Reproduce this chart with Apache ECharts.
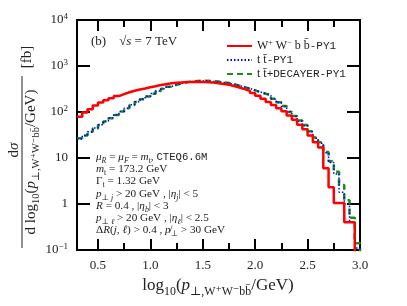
<!DOCTYPE html>
<html>
<head>
<meta charset="utf-8">
<script src="https://cdn.jsdelivr.net/npm/echarts@6/dist/echarts.min.js"></script>
<style>
  html, body { margin: 0; padding: 0; background: #fff; }
  #chart { width: 407px; height: 306px; }
</style>
</head>
<body>
<div id="chart"></div>
<script>
// histogram bins: 0.30 .. 3.00, width 0.05 (54 bins)
const binStart = 0.3;
const binWidth = 0.05;
const xMajorTicks = [0.5, 1.0, 1.5, 2.0, 2.5, 3.0];
const xMinorTicks = [0.75, 1.25, 1.75, 2.25, 2.75];

// dsigma / dlog10(pT) [fb], one value per bin
const wwbbPY1 = [
  79, 97, 115, 138, 160, 180, 200, 222, 245, 268,
  290, 308, 325, 345, 362, 385, 402, 420, 432, 440,
  447, 451, 452, 450, 445, 436, 424, 408, 390, 368,
  342, 315, 288, 258, 225, 195, 165, 142, 120, 104,
  84, 68, 53, 42, 31, 22, 17, 6, 2.3, 1.05,
  1.05, 0.4, 0.4, 0
];
const ttPY1 = [
  26, 31, 37, 45, 53, 63, 74, 87, 103, 121,
  143, 167, 192, 220, 252, 286, 322, 356, 390, 418,
  442, 458, 468, 472, 470, 463, 452, 438, 420, 400,
  376, 350, 325, 298, 272, 252, 228, 192, 160, 132,
  102, 80, 63, 50, 37, 27, 21, 13, 8, 4.5,
  1.8, 1.0, 0.4, 0.11
];
const ttDecayerPY1 = [
  27, 31, 37, 44, 52, 62, 73, 86, 102, 120,
  142, 165, 190, 218, 250, 285, 320, 355, 390, 420,
  445, 462, 472, 478, 476, 470, 458, 444, 425, 402,
  375, 348, 322, 295, 268, 250, 234, 195, 162, 135,
  100, 82, 65, 52, 38, 28, 22, 13.5, 8.5, 5,
  2.6, 1.2, 0.5, 0.14
];

const serif = "'Liberation Serif', 'DejaVu Serif', serif";
const mono = "'Liberation Mono', 'DejaVu Sans Mono', monospace";
const ink = "#222";
const EMPTY = 0.01; // empty bin -> below the log axis, clipped

// left edges + closing edge, drawn with step 'end'
function toSteps(vals) {
  let pts = vals.map((v, i) => [+(binStart + i * binWidth).toFixed(2), v > 0 ? v : EMPTY]);
  pts.push([+(binStart + vals.length * binWidth).toFixed(2), EMPTY]);
  return pts;
}

// rich styles for graphic texts
function richFor(size) {
  return {
    n: { fontFamily: serif, fontSize: size, fill: ink },
    i: { fontFamily: serif, fontSize: size, fontStyle: "italic", fill: ink },
    s: { fontFamily: serif, fontSize: size * 0.7, fill: ink, padding: [size * 0.7, 0, 0, 0] },
    si: { fontFamily: serif, fontSize: size * 0.7, fontStyle: "italic", fill: ink, padding: [size * 0.7, 0, 0, 0] },
    sup: { fontFamily: serif, fontSize: size * 0.7, fill: ink, padding: [0, 0, size * 0.6, 0] },
    tt: { fontFamily: mono, fontSize: size * 0.95, fill: ink }
  };
}
function label(x, y, text, size, extra) {
  let el = {
    type: "text",
    x: x,
    y: y,
    silent: true,
    style: {
      text: text,
      fontFamily: serif,
      fontSize: size,
      fill: ink,
      align: "left",
      textAlign: "left",
      verticalAlign: "middle",
      textVerticalAlign: "middle",
      rich: richFor(size)
    }
  };
  if (extra) {
    if (extra.rotation) el.rotation = extra.rotation;
    if (extra.align) {
      el.style.align = extra.align;
      el.style.textAlign = extra.align;
    }
  }
  return el;
}

const paramLines = [
  "{i|μ}{si|R} = {i|μ}{si|F} = {i|m}{s|t}, {tt|CTEQ6.6M}",
  "{i|m}{s|t} = 173.2 GeV",
  "Γ{s|t} = 1.32 GeV",
  "{i|p}{s|⊥ }{si|j} > 20 GeV , |{i|η}{si|j}| < 5",
  "{i|R} = 0.4 , |{i|η}{si|b}| < 3",
  "{i|p}{s|⊥ }{si|ℓ} > 20 GeV , |{i|η}{si|ℓ}| < 2.5",
  "Δ{i|R}({i|j}, {i|ℓ}) > 0.4 , {i|p̸}{s|⊥} > 30 GeV"
];

let graphics = [];
paramLines.forEach((t, k) => {
  graphics.push(label(96, 157 + k * 12.2, t, 11.2));
});
graphics.push(label(91, 42, "(b)    √{i|s} = 7 TeV", 13));
// x axis title
graphics.push(label(218, 286, "log{s|10}({i|p}{s|⊥,W⁺W⁻bb̄}/GeV)", 17, { align: "center" }));
// y axis title (rotated fraction)
const rot = Math.PI / 2;
graphics.push(label(14, 150, "d{i|σ}", 15, { rotation: rot, align: "center" }));
graphics.push({
  type: "line",
  silent: true,
  shape: { x1: 22, y1: 76, x2: 22, y2: 248 },
  style: { stroke: ink, lineWidth: 1 }
});
graphics.push(label(31, 162, "d log{s|10}({i|p}{s|⊥,W⁺W⁻bb̄}/GeV)", 15, { rotation: rot, align: "center" }));
graphics.push(label(27, 57, "[fb]", 15, { rotation: rot, align: "center" }));

const names = {
  wwbb: "W{sup|+} W{sup|−} b b̄{tt|-PY1}",
  tt: "t t̄{tt|-PY1}",
  ttdec: "t t̄{tt|+DECAYER-PY1}"
};

function xAxisCfg(pos, ticks, len, withLabels) {
  return {
    type: "value",
    position: pos,
    min: 0.3,
    max: 3.0,
    axisLine: { show: true, lineStyle: { color: "#000", width: 2 } },
    axisTick: { show: true, inside: true, length: len, customValues: ticks, lineStyle: { color: "#000", width: 2 } },
    axisLabel: {
      show: withLabels,
      customValues: xMajorTicks,
      margin: 9,
      fontFamily: serif,
      fontSize: 13,
      color: ink,
      formatter: v => v.toFixed(1)
    },
    splitLine: { show: false }
  };
}
function yAxisCfg(pos, withLabels) {
  return {
    type: "log",
    logBase: 10,
    position: pos,
    min: 0.1,
    max: 10000,
    axisLine: { show: true, lineStyle: { color: "#000", width: 2 } },
    axisTick: { show: true, inside: true, length: 13, lineStyle: { color: "#000", width: 2 } },
    axisLabel: {
      show: withLabels,
      margin: 9,
      fontFamily: serif,
      fontSize: 13,
      color: ink,
      rich: { sup: { fontSize: 9, padding: [0, 0, 7, 0] } },
      formatter: v => {
        const e = Math.round(Math.log10(v));
        if (e === 0) return "1";
        if (e === 1) return "10";
        return "10{sup|" + (e < 0 ? "−" : "") + Math.abs(e) + "}";
      }
    },
    splitLine: { show: false }
  };
}

const chart = echarts.init(document.getElementById("chart"));
chart.setOption({
  animation: false,
  grid: { left: 77, right: 47, top: 20, bottom: 56 },
  xAxis: [
    xAxisCfg("bottom", xMajorTicks, 11, true),
    xAxisCfg("bottom", xMinorTicks, 7, false),
    xAxisCfg("top", xMajorTicks, 11, false),
    xAxisCfg("top", xMinorTicks, 7, false)
  ],
  yAxis: [yAxisCfg("left", true), yAxisCfg("right", false)],
  legend: {
    orient: "vertical",
    left: 221,
    top: 34,
    itemWidth: 25,
    itemHeight: 10,
    itemGap: 2,
    itemStyle: { opacity: 0 },
    data: ["wwbb", "tt", "ttdec"],
    formatter: name => names[name],
    textStyle: {
      fontFamily: serif,
      fontSize: 12,
      color: ink,
      rich: {
        sup: { fontSize: 8, padding: [0, 0, 6, 0] },
        tt: { fontFamily: mono, fontSize: 11 }
      }
    }
  },
  graphic: graphics,
  series: [
    {
      name: "ttdec",
      type: "line",
      step: "end",
      symbol: "none",
      z: 3,
      lineStyle: { color: "#1a8a1a", width: 2.5, type: [6, 4] },
      itemStyle: { color: "#1a8a1a" },
      data: toSteps(ttDecayerPY1)
    },
    {
      name: "tt",
      type: "line",
      step: "end",
      symbol: "none",
      z: 4,
      lineStyle: { color: "#0000ff", width: 1.5, type: [1.5, 2] },
      itemStyle: { color: "#0000ff" },
      data: toSteps(ttPY1)
    },
    {
      name: "wwbb",
      type: "line",
      step: "end",
      symbol: "none",
      z: 5,
      lineStyle: { color: "#ff0000", width: 2.5 },
      itemStyle: { color: "#ff0000" },
      data: toSteps(wwbbPY1)
    }
  ]
});
</script>
</body>
</html>
